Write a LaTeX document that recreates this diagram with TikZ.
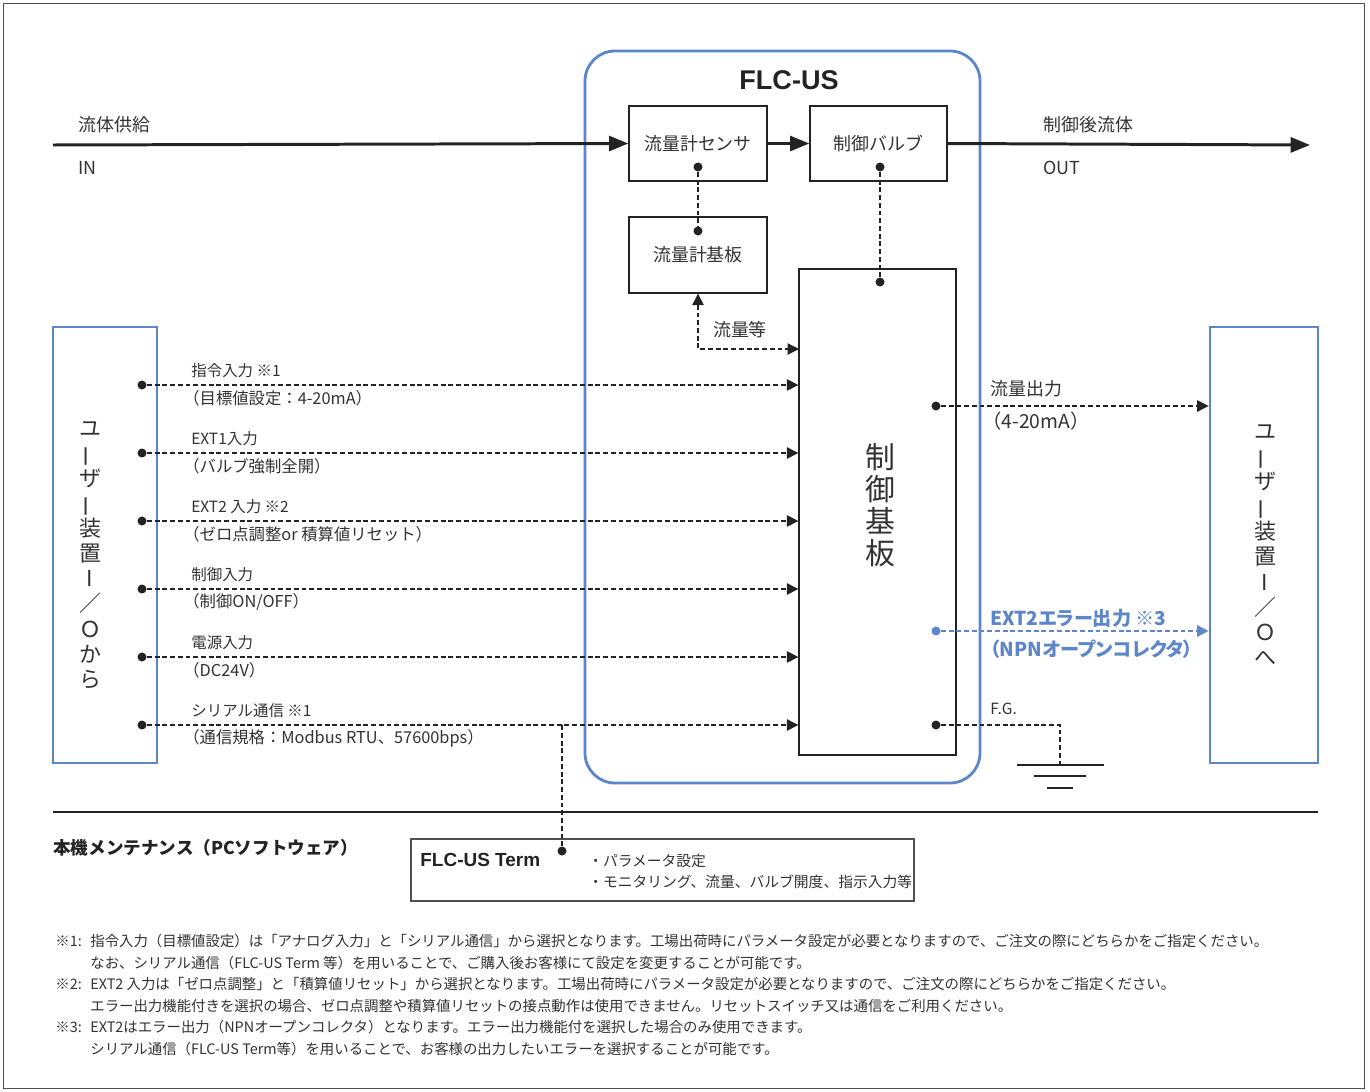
\documentclass[tikz,border=0pt]{standalone}
\usepackage{fontspec}
\setmainfont{Noto Sans CJK JP}
\newfontfamily\jpl{Noto Sans CJK JP}[RawFeature=+palt]
\newfontfamily\helv{Liberation Sans}
\usetikzlibrary{arrows.meta}
\definecolor{flcblue}{RGB}{92,134,201}
\definecolor{ink}{RGB}{35,35,35}
\definecolor{txt}{RGB}{50,50,50}
\newcommand{\vbar}{\rotatebox[origin=c]{90}{ー}}

\begin{document}
\begin{tikzpicture}[x=0.2mm, y=-0.2mm,
  box/.style={draw=ink, line width=0.75pt, inner sep=0pt, text=txt, font=\fontsize{10.2}{12}\selectfont},
  ubox/.style={draw=flcblue, line width=1.6pt, inner sep=0pt, minimum height=87.2mm},
  dot/.style={circle, fill=ink, inner sep=0pt, minimum size=1.8mm},
  sig/.style={ink, line width=0.6pt, dash pattern=on 2.8pt off 1.6pt},
  tip/.style={-{Triangle[length=6.5pt,width=6.5pt]}},
  flow/.style={ink, line width=1.7pt, -{Triangle[length=11pt,width=8.5pt]}},
  lbl/.style={inner sep=0pt, text=txt, font=\fontsize{10.2}{12}\selectfont},
  small/.style={inner sep=0pt, anchor=west, text=txt, font=\fontsize{8.8}{10.5}\selectfont},
  note/.style={inner sep=0pt, anchor=west, text=txt, font=\fontsize{8.2}{10}\selectfont},
  vtext/.style={inner sep=0pt, align=center, text=txt, font=\fontsize{12.5}{14.3}\selectfont}]
\useasboundingbox (0,0) rectangle (1370,1091);
\draw[ink!80, line width=0.5pt] (3,3) rectangle (1364,1088);
% FLC-US unit
\node[draw=flcblue, line width=1.6pt, rounded corners=6mm, minimum width=79mm, minimum height=146.4mm] (flc) at (782.5,417) {};
\node[font=\helv\bfseries\fontsize{15.4}{18}\selectfont, text=ink] (title) at (789,80) {FLC-US};
\node[box, minimum width=27.6mm, minimum height=15mm] (sensor) at (698,143.5) {流量計センサ};
\node[box, minimum width=27.4mm, minimum height=15mm] (valve) at (878.5,143.5) {制御バルブ};
\node[box, minimum width=27.6mm, minimum height=15.2mm] (fboard) at (698,255) {流量計基板};
\node[box, minimum width=31.4mm, minimum height=97.2mm] (ctrl) at (877.5,512) {};
\node[inner sep=0pt, align=center, text=txt, font=\fontsize{17}{18.3}\selectfont] (ctrltxt) at (880,505) {制\\御\\基\\板};
% fluid path
\coordinate (src) at (53,145);
\coordinate (dst) at (1310,145);
\draw[flow] (src) -- (sensor.west);
\draw[flow] (sensor.east) -- (valve.west);
\draw[flow] (valve.east) -- (dst);
\node[lbl, anchor=west] at (78,125) {流体供給};
\node[lbl, anchor=west] at (78,168) {IN};
\node[lbl, anchor=west] at (1043,125) {制御後流体};
\node[lbl, anchor=west] at (1043,168) {OUT};
% internal links
\node[dot] (sdot) at (698,167) {};
\node[dot] (bdot) at (698,231) {};
\node[dot] (vdot) at (880,167) {};
\node[dot] (cdot) at (880,282) {};
\draw[sig] (sdot) -- (bdot);
\draw[sig] (vdot) -- (cdot);
\coordinate (qty) at (799,349);
\draw[sig, {Triangle[length=6.5pt,width=6.5pt]}-{Triangle[length=6.5pt,width=6.5pt]}] (fboard.south) |- (qty);
\node[lbl] at (740,330) {流量等};
% user I/O
\node[ubox, minimum width=20.8mm] (userL) at (105,545) {};
\node[vtext] (userLtxt) at (90,555) {ユ\\\vbar\\ザ\\\vbar\\装\\置\\I\\／\\Ｏ\\か\\ら};
\node[ubox, minimum width=21.6mm] (userR) at (1264,545) {};
\node[vtext] (userRtxt) at (1265,545) {ユ\\\vbar\\ザ\\\vbar\\装\\置\\I\\／\\Ｏ\\へ};
% inputs
\foreach \i/\yy/\up/\low in {
  1/385/{指令入力 ※1}/{（目標値設定：4-20mA）},
  2/453/{EXT1入力}/{（バルブ強制全開）},
  3/521/{EXT2 入力 ※2}/{（ゼロ点調整or 積算値リセット）},
  4/589/{制御入力}/{（制御ON/OFF）},
  5/657/{電源入力}/{（DC24V）},
  6/725/{シリアル通信 ※1}/{（通信規格：Modbus RTU、57600bps）}}{
  \node[dot] (in\i) at (142,\yy) {};
  \draw[sig, tip] (in\i) -- (in\i -| ctrl.west);
  \node[small] at (191,\yy-14) {\up};
  \node[small, font=\fontsize{9.3}{11}\selectfont] at (183,\yy+13) {\low};
}
% outputs
\node[dot] (out1) at (936,406) {};
\draw[sig, tip] (out1) -- (out1 -| userR.west);
\node[lbl, anchor=west] at (990,389) {流量出力};
\node[lbl, anchor=west, font=\fontsize{11}{13}\selectfont] at (982,421) {（4-20mA）};
\node[dot, fill=flcblue] (out2) at (936,631) {};
\draw[sig, flcblue, tip] (out2) -- (out2 -| userR.west);
\node[lbl, anchor=west, text=flcblue, font=\jpl\bfseries\fontsize{10.9}{12}\selectfont] at (990,618) {EXT2エラー出力 ※3};
\node[lbl, anchor=west, text=flcblue, font=\jpl\bfseries\fontsize{10.9}{12}\selectfont] at (990,649) {（NPNオープンコレクタ）};
\node[dot] (fg) at (936,725) {};
\coordinate (gnd) at (1060,765);
\draw[sig] (fg) -| (gnd);
\node[small] at (990,709) {F.G.};
\draw[ink, line width=0.6pt] (1017,765) -- (1104,765) (1034,776) -- (1086,776) (1047,788) -- (1073,788);
% maintenance
\draw[ink, line width=0.7pt] (53,812) -- (1318,812);
\node[inner sep=0pt, anchor=west, text=ink, font=\bfseries\fontsize{10}{12}\selectfont] at (53,848) {本機メンテナンス（PCソフトウェア）};
\node[draw=ink!80, line width=0.6pt, minimum width=100.6mm, minimum height=12.4mm] (term) at (662.5,870) {};
\node[inner sep=0pt, anchor=west, text=ink, font=\helv\bfseries\fontsize{10.8}{12}\selectfont] at (420,860) {FLC-US Term};
\node[dot] (tdot) at (562,851) {};
\draw[sig] (tdot) -- (tdot |- in6);
\node[note, font=\fontsize{8.4}{10}\selectfont] at (588,861) {・パラメータ設定};
\node[note, font=\fontsize{8.4}{10}\selectfont] at (588,882) {・モニタリング、流量、バルブ開度、指示入力等};
% notes
\node[note] at (55,941) {※1:};
\node[note] at (90,941) {指令入力（目標値設定）は「アナログ入力」と「シリアル通信」から選択となります。工場出荷時にパラメータ設定が必要となりますので、ご注文の際にどちらかをご指定ください。};
\node[note] at (90,963) {なお、シリアル通信（FLC-US Term 等）を用いることで、ご購入後お客様にて設定を変更することが可能です。};
\node[note] at (55,984) {※2:};
\node[note] at (90,984) {EXT2 入力は「ゼロ点調整」と「積算値リセット」から選択となります。工場出荷時にパラメータ設定が必要となりますので、ご注文の際にどちらかをご指定ください。};
\node[note] at (90,1006) {エラー出力機能付きを選択の場合、ゼロ点調整や積算値リセットの接点動作は使用できません。リセットスイッチ又は通信をご利用ください。};
\node[note] at (55,1027) {※3:};
\node[note] at (90,1027) {EXT2はエラー出力（NPNオープンコレクタ）となります。エラー出力機能付を選択した場合のみ使用できます。};
\node[note] at (90,1049) {シリアル通信（FLC-US Term等）を用いることで、お客様の出力したいエラーを選択することが可能です。};
\end{tikzpicture}
\end{document}
